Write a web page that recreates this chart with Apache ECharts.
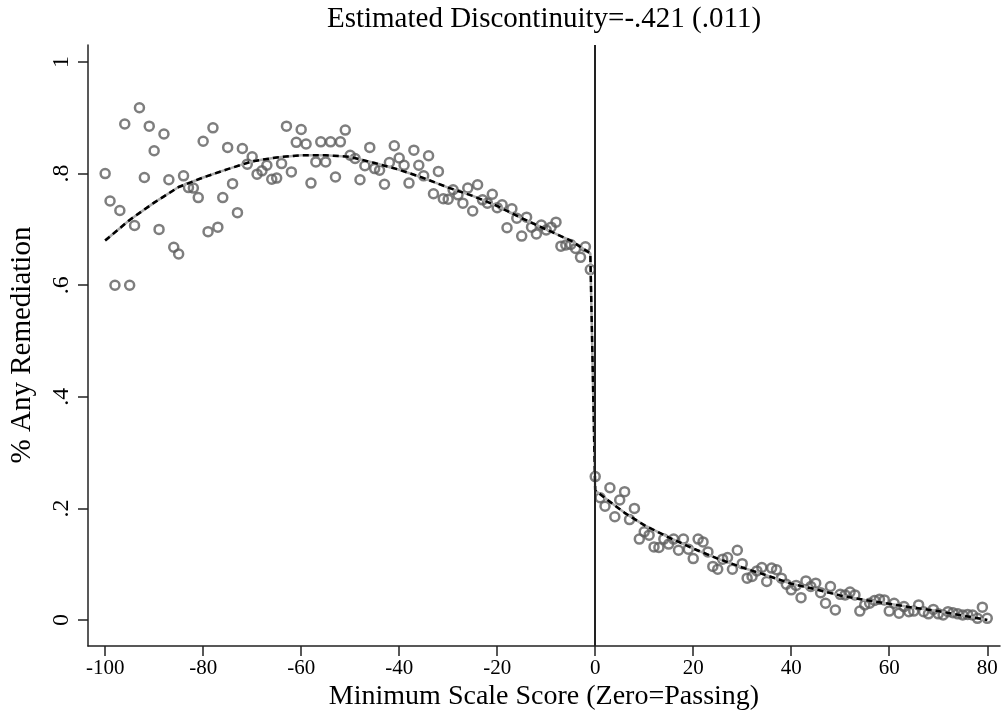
<!DOCTYPE html>
<html>
<head>
<meta charset="utf-8">
<script src="https://cdn.jsdelivr.net/npm/echarts@6/dist/echarts.min.js"></script>
<style>
html,body{margin:0;padding:0;background:#fff;}
#chart{width:1004px;height:715px;}
</style>
</head>
<body>
<div id="chart"></div>
<script>
// ---- data ----
const scoreLeft = [-100,-99,-98,-97,-96,-95,-94,-93,-92,-91,-90,-89,-88,-87,-86,-85,-84,-83,-82,-81,
  -80,-79,-78,-77,-76,-75,-74,-73,-72,-71,-70,-69,-68,-67,-66,-65,-64,-63,-62,-61,
  -60,-59,-58,-57,-56,-55,-54,-53,-52,-51,-50,-49,-48,-47,-46,-45,-44,-43,-42,-41,
  -40,-39,-38,-37,-36,-35,-34,-33,-32,-31,-30,-29,-28,-27,-26,-25,-24,-23,-22,-21,
  -20,-19,-18,-17,-16,-15,-14,-13,-12,-11,-10,-9,-8,-7,-6,-5,-4,-3,-2,-1];
const shareLeft = [0.800,0.751,0.600,0.734,0.889,0.600,0.707,0.918,0.793,0.885,
  0.841,0.700,0.871,0.789,0.668,0.656,0.796,0.775,0.774,0.757,
  0.858,0.696,0.882,0.704,0.757,0.847,0.782,0.730,0.845,0.817,
  0.830,0.799,0.805,0.815,0.790,0.792,0.818,0.885,0.803,0.856,
  0.879,0.853,0.783,0.821,0.857,0.821,0.857,0.794,0.857,0.878,
  0.833,0.827,0.789,0.814,0.847,0.809,0.806,0.781,0.820,0.850,
  0.828,0.815,0.783,0.842,0.815,0.796,0.832,0.764,0.804,0.755,
  0.754,0.771,0.762,0.747,0.774,0.733,0.780,0.753,0.747,0.763,
  0.739,0.744,0.703,0.737,0.720,0.688,0.722,0.704,0.692,0.708,
  0.699,0.704,0.713,0.670,0.672,0.673,0.666,0.650,0.669,0.628];
const scoreRight = [0,1,2,3,4,5,6,7,8,9,10,11,12,13,14,15,16,17,18,19,
  20,21,22,23,24,25,26,27,28,29,30,31,32,33,34,35,36,37,38,39,
  40,41,42,43,44,45,46,47,48,49,50,51,52,53,54,55,56,57,58,59,
  60,61,62,63,64,65,66,67,68,69,70,71,72,73,74,75,76,77,78,79,80];
const shareRight = [0.257,0.219,0.204,0.237,0.185,0.215,0.230,0.180,0.200,0.145,
  0.158,0.152,0.131,0.130,0.145,0.136,0.145,0.125,0.145,0.127,
  0.110,0.145,0.140,0.122,0.096,0.091,0.109,0.112,0.091,0.125,
  0.101,0.075,0.078,0.088,0.094,0.069,0.093,0.090,0.075,0.064,
  0.054,0.062,0.040,0.070,0.060,0.066,0.049,0.030,0.060,0.018,
  0.046,0.045,0.050,0.045,0.016,0.027,0.030,0.035,0.037,0.036,
  0.016,0.030,0.012,0.024,0.015,0.016,0.027,0.015,0.011,0.019,
  0.011,0.009,0.015,0.013,0.011,0.009,0.010,0.009,0.003,0.023,0.003];
const fitX = [-100,-95,-90,-85,-80,-75,-70,-65,-60,-55,-50,-45,-40,-35,-30,-25,-20,-15,-10,-5,-1,
  0,3,6,10,15,20,25,30,35,40,45,50,55,60,65,70,75,80];
const fitY = [0.680,0.717,0.748,0.776,0.793,0.808,0.822,0.829,0.833,0.833,0.830,0.819,0.807,0.792,0.775,0.760,0.742,0.720,0.700,0.680,0.657,
  0.232,0.212,0.192,0.170,0.148,0.128,0.110,0.094,0.080,0.065,0.055,0.044,0.036,0.029,0.022,0.016,0.008,0.000];
const xTicks = [-100,-80,-60,-40,-20,0,20,40,60,80];
const xTickLabels = ["-100","-80","-60","-40","-20","0","20","40","60","80"];
const yTicks = [0,0.2,0.4,0.6,0.8,1];
const yTickLabels = ["0",".2",".4",".6",".8","1"];
const titleText = "Estimated Discontinuity=-.421 (.011)";
const xTitle = "Minimum Scale Score (Zero=Passing)";
const yTitle = "% Any Remediation";

// ---- build ----
const FONT = "'Liberation Serif', 'DejaVu Serif', serif";
const pts = scoreLeft.map((x,i)=>[x, shareLeft[i]]).concat(scoreRight.map((x,i)=>[x, shareRight[i]]));
const fit = fitX.map((x,i)=>[x, fitY[i]]);

const chart = echarts.init(document.getElementById('chart'), null, {renderer:'canvas'});
chart.setOption({
  animation:false,
  backgroundColor:'#fff',
  grid:{left:88, top:45, right:4, bottom:69, containLabel:false, outerBoundsMode:'none'},
  graphic:[
    {type:'text', x:544, y:19, style:{text:titleText, fill:'#000', font:'29px '+FONT, textAlign:'center', textVerticalAlign:'middle'}},
    {type:'text', x:544, y:697, style:{text:xTitle, fill:'#000', font:'28px '+FONT, textAlign:'center', textVerticalAlign:'middle'}},
    {type:'text', x:22, y:345, rotation:Math.PI/2, style:{text:yTitle, fill:'#000', font:'29px '+FONT, textAlign:'center', textVerticalAlign:'middle'}}
  ],
  xAxis:{
    type:'value', min:-103.5, max:82.6,
    axisLine:{show:true, onZero:false, lineStyle:{color:'#222', width:1.5}},
    axisTick:{show:true, length:10, lineStyle:{color:'#222', width:1.5}, customValues:xTicks},
    axisLabel:{fontFamily:FONT, fontSize:21, color:'#000', margin:12, customValues:xTicks,
      formatter:(v)=>{const i=xTicks.indexOf(v); return i>=0?xTickLabels[i]:'';}},
    splitLine:{show:false}
  },
  yAxis:{
    type:'value', min:-0.0466, max:1.0305,
    axisLine:{show:true, onZero:false, lineStyle:{color:'#222', width:1.5}},
    axisTick:{show:true, length:10, lineStyle:{color:'#222', width:1.5}, customValues:yTicks},
    axisLabel:{fontFamily:FONT, fontSize:24, color:'#000', margin:14, rotate:90, customValues:yTicks,
      formatter:(v)=>{let i=-1; yTicks.forEach((t,k)=>{if(Math.abs(t-v)<1e-6)i=k;}); return i>=0?yTickLabels[i]:'';}},
    splitLine:{show:false}
  },
  series:[
    {type:'scatter', data:pts, symbol:'circle', symbolSize:9,
      itemStyle:{color:'rgba(255,255,255,0)', borderColor:'#5e5e5e', borderWidth:2.5},
      markLine:{silent:true, symbol:'none', label:{show:false},
        lineStyle:{color:'#222', width:2, type:'solid'}, data:[{xAxis:0}]},
      z:2},
    {type:'line', data:fit, showSymbol:false, symbol:'none',
      lineStyle:{color:'#aaa', width:2.5, type:'solid'}, z:3},
    {type:'line', data:fit, showSymbol:false, symbol:'none',
      lineStyle:{color:'#000', width:2.5, type:[6,4]}, z:4}
  ]
});
</script>
</body>
</html>
